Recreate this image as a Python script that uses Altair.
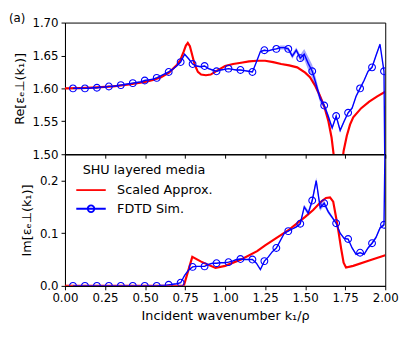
import altair as alt
import pandas as pd

# ---------------- data ----------------
# FDTD simulation grid (markers on every 3rd point), last point = edge artefact at k=2
fdtd_k = [round(0.05 + i * 0.0249, 4) for i in range(79)] + [2.0]

fdtd_re = [1.600, 1.600, 1.600, 1.600, 1.600, 1.601, 1.601, 1.602, 1.602, 1.603,
           1.603, 1.604, 1.605, 1.606, 1.607, 1.608, 1.609, 1.610, 1.612, 1.613,
           1.614, 1.616, 1.619, 1.622, 1.625, 1.629, 1.634, 1.640, 1.652, 1.645,
           1.637, 1.634, 1.633, 1.634, 1.630, 1.628, 1.626, 1.628, 1.629, 1.630,
           1.629, 1.628, 1.628, 1.627, 1.626, 1.625, 1.640, 1.656, 1.658, 1.657,
           1.659, 1.660, 1.662, 1.662, 1.660, 1.649, 1.658, 1.646, 1.652, 1.638,
           1.626, 1.606, 1.584, 1.574, 1.558, 1.540, 1.558, 1.536, 1.550, 1.563,
           1.570, 1.588, 1.600, 1.612, 1.626, 1.632, 1.650, 1.667, 1.626, 1.40]

fdtd_im = [0.000, 0.000, 0.000, 0.000, 0.000, 0.000, 0.000, 0.000, 0.000, 0.000,
           0.000, 0.000, 0.000, 0.000, 0.000, 0.000, 0.000, 0.000, 0.000, 0.000,
           0.000, 0.000, 0.001, 0.001, 0.002, 0.003, 0.004, 0.006, 0.020, 0.030,
           0.036, 0.037, 0.037, 0.037, 0.041, 0.043, 0.043, 0.044, 0.044, 0.045,
           0.047, 0.050, 0.051, 0.050, 0.050, 0.050, 0.043, 0.031, 0.047, 0.055,
           0.065, 0.072, 0.086, 0.100, 0.104, 0.108, 0.112, 0.118, 0.150, 0.138,
           0.162, 0.200, 0.148, 0.157, 0.141, 0.130, 0.119, 0.100, 0.090, 0.089,
           0.072, 0.060, 0.063, 0.060, 0.072, 0.081, 0.092, 0.110, 0.116, 0.300]

fdtd_re_spread = [0.001] * 52 + [0.003, 0.003, 0.003, 0.004, 0.004, 0.005, 0.008, 0.010,
                                 0.010, 0.008, 0.006, 0.004, 0.004, 0.003, 0.003, 0.003,
                                 0.002, 0.002, 0.002, 0.002, 0.002, 0.002, 0.002, 0.002,
                                 0.002, 0.002, 0.002, 0.0]
fdtd_im_spread = [0.0005] * 56 + [0.002, 0.003, 0.004, 0.005, 0.006, 0.006, 0.006, 0.005,
                                  0.004, 0.003, 0.003, 0.002, 0.002, 0.002, 0.002, 0.002,
                                  0.002, 0.002, 0.002, 0.003, 0.003, 0.003, 0.003, 0.0]

# Scaled approximation (smooth curves)
approx_re_k = [0.0, 0.1, 0.2, 0.3, 0.4, 0.5, 0.55, 0.6, 0.65, 0.7, 0.72, 0.74, 0.755,
               0.767, 0.78, 0.79, 0.81, 0.83, 0.85, 0.88, 0.91, 0.95, 1.0, 1.05, 1.1,
               1.15, 1.2, 1.25, 1.3, 1.35, 1.4, 1.45, 1.5, 1.53, 1.56, 1.59, 1.62,
               1.645, 1.665, 1.68, 1.70, 1.72, 1.74, 1.76, 1.78, 1.8, 1.85, 1.9, 1.95, 2.0]
approx_re = [1.600, 1.6005, 1.6015, 1.603, 1.606, 1.610, 1.613, 1.617, 1.624, 1.636,
             1.643, 1.655, 1.665, 1.669, 1.664, 1.655, 1.636, 1.625, 1.621, 1.620,
             1.621, 1.627, 1.634, 1.637, 1.639, 1.641, 1.642, 1.642, 1.640, 1.637,
             1.635, 1.632, 1.624, 1.617, 1.605, 1.590, 1.572, 1.550, 1.525, 1.495,
             1.40, 1.46, 1.505, 1.528, 1.545, 1.556, 1.570, 1.580, 1.588, 1.595]

approx_im_k = [0.0, 0.5, 0.742, 0.795, 0.85, 0.94, 1.0, 1.1, 1.2, 1.25, 1.3, 1.4, 1.5,
               1.55, 1.6, 1.63, 1.655, 1.675, 1.69, 1.707, 1.725, 1.74, 1.755, 1.8,
               1.9, 2.0]
approx_im = [0.0, 0.0, 0.0, 0.055, 0.046, 0.034, 0.038, 0.050, 0.066, 0.077, 0.087,
             0.107, 0.131, 0.144, 0.160, 0.167, 0.168, 0.160, 0.135, 0.105, 0.070,
             0.044, 0.035, 0.038, 0.048, 0.058]

series = ["Scaled Approx.", "FDTD Sim."]
series_colors = ["#ff0000", "#0000ff"]
x_ticks = [0.0, 0.25, 0.5, 0.75, 1.0, 1.25, 1.5, 1.75, 2.0]
re_ticks = [1.50, 1.55, 1.60, 1.65, 1.70]
im_ticks = [0.0, 0.1, 0.2]

# ---------------- tables ----------------
fdtd = pd.DataFrame({"k": fdtd_k, "re": fdtd_re, "im": fdtd_im,
                     "re_s": fdtd_re_spread, "im_s": fdtd_im_spread})
fdtd["re_lo"] = fdtd["re"] - fdtd["re_s"]
fdtd["re_hi"] = fdtd["re"] + fdtd["re_s"]
fdtd["im_lo"] = fdtd["im"] - fdtd["im_s"]
fdtd["im_hi"] = fdtd["im"] + fdtd["im_s"]
markers = fdtd.iloc[:79].iloc[::3]
are = pd.DataFrame({"k": approx_re_k, "re": approx_re})
aim = pd.DataFrame({"k": approx_im_k, "im": approx_im})
legend_df = pd.DataFrame({"series": series})

RED = series_colors[0]
BLUE = series_colors[1]
W, H = 326, 134

x_scale = alt.Scale(domain=[0, 2], nice=False, zero=False)

# ---------------- top panel ----------------
x_top_axis = alt.Axis(values=x_ticks, labels=False, title=None)
y_top_scale = alt.Scale(domain=[1.5, 1.7], nice=False, zero=False)
y_top_axis = alt.Axis(values=re_ticks, format=".2f", title="Re[εₑ⊥(k₁)]",
                      labelOverlap=False, tickCount=5)


def xt():
    return alt.X("k:Q", scale=x_scale, axis=x_top_axis)


def yt(field):
    return alt.Y(field, scale=y_top_scale, axis=y_top_axis)


t_red = alt.Chart(are).mark_line(color=RED, strokeWidth=2.2, clip=True).encode(x=xt(), y=yt("re:Q"))
t_band = alt.Chart(fdtd).mark_area(color=BLUE, opacity=0.35, clip=True).encode(
    x=xt(), y=yt("re_lo:Q"), y2="re_hi:Q")
t_blue = alt.Chart(fdtd).mark_line(color=BLUE, strokeWidth=1.4, clip=True).encode(x=xt(), y=yt("re:Q"))
t_mark = alt.Chart(markers).mark_point(color=BLUE, filled=False, size=48, strokeWidth=1.1,
                                       opacity=1, clip=True).encode(x=xt(), y=yt("re:Q"))
t_lab = alt.Chart(pd.DataFrame({"t": ["(a)"]})).mark_text(
    align="left", baseline="top", fontSize=12, font="DejaVu Sans", color="black"
).encode(x=alt.value(-57), y=alt.value(-10), text="t:N")

top = alt.layer(t_red, t_band, t_blue, t_mark, t_lab).properties(width=W, height=H)

# ---------------- bottom panel ----------------
x_bot_axis = alt.Axis(values=x_ticks, format=".2f", title="Incident wavenumber k₁/ρ",
                      labelOverlap=False)
y_bot_scale = alt.Scale(domain=[0, 0.25], nice=False)
y_bot_axis = alt.Axis(values=im_ticks, format=".1f", title="Im[εₑ⊥(k₁)]", labelOverlap=False)


def xb():
    return alt.X("k:Q", scale=x_scale, axis=x_bot_axis)


def yb(field):
    return alt.Y(field, scale=y_bot_scale, axis=y_bot_axis)


b_red = alt.Chart(aim).mark_line(color=RED, strokeWidth=2.2, clip=True).encode(x=xb(), y=yb("im:Q"))
b_band = alt.Chart(fdtd).mark_area(color=BLUE, opacity=0.35, clip=True).encode(
    x=xb(), y=yb("im_lo:Q"), y2="im_hi:Q")
b_blue = alt.Chart(fdtd).mark_line(color=BLUE, strokeWidth=1.4, clip=True).encode(x=xb(), y=yb("im:Q"))
b_mark = alt.Chart(markers).mark_point(color=BLUE, filled=False, size=48, strokeWidth=1.1,
                                       opacity=1, clip=True).encode(x=xb(), y=yb("im:Q"))

leg_shapes = ["M-2,0L2,0",
              "M-2,0L2,0M0.45,0A0.45,0.45 0 1 1 -0.45,0A0.45,0.45 0 1 1 0.45,0"]
leg = alt.Legend(title="SHU layered media", orient="none", legendX=18, legendY=10,
                 symbolSize=225, symbolStrokeWidth=1.8,
                 symbolOpacity=1, labelOffset=18, rowPadding=3,
                 titlePadding=5, padding=0)
b_leg = alt.Chart(legend_df).mark_point(filled=False, opacity=0).encode(
    x=alt.value(0), y=alt.value(0),
    color=alt.Color("series:N", scale=alt.Scale(domain=series, range=series_colors), legend=leg),
    shape=alt.Shape("series:N", scale=alt.Scale(domain=series, range=leg_shapes), legend=leg),
)

bottom = alt.layer(b_red, b_band, b_blue, b_mark, b_leg).properties(width=W, height=H)

chart = alt.vconcat(top, bottom, spacing=0, bounds="flush").resolve_scale(
    color="independent", shape="independent"
).resolve_legend(color="independent", shape="independent").properties(
    padding={"left": 0, "top": 0, "right": 0, "bottom": 0}
).configure_view(stroke="black", strokeWidth=1).configure_axis(
    grid=False, domainColor="black", tickColor="black", labelColor="black",
    titleColor="black", labelFont="DejaVu Sans", titleFont="DejaVu Sans",
    labelFontSize=12, titleFontSize=13, titleFontWeight="normal", tickSize=4,
    labelPadding=3, titlePadding=6, domainWidth=1, tickWidth=1,
    labelFlush=False, labelOverlap=False
).configure_legend(
    titleFont="DejaVu Sans", labelFont="DejaVu Sans", titleFontSize=13,
    labelFontSize=13, titleFontWeight="normal", titleColor="black", labelColor="black"
)

chart.save("out.html", embed_options={"renderer": "svg", "actions": False})
